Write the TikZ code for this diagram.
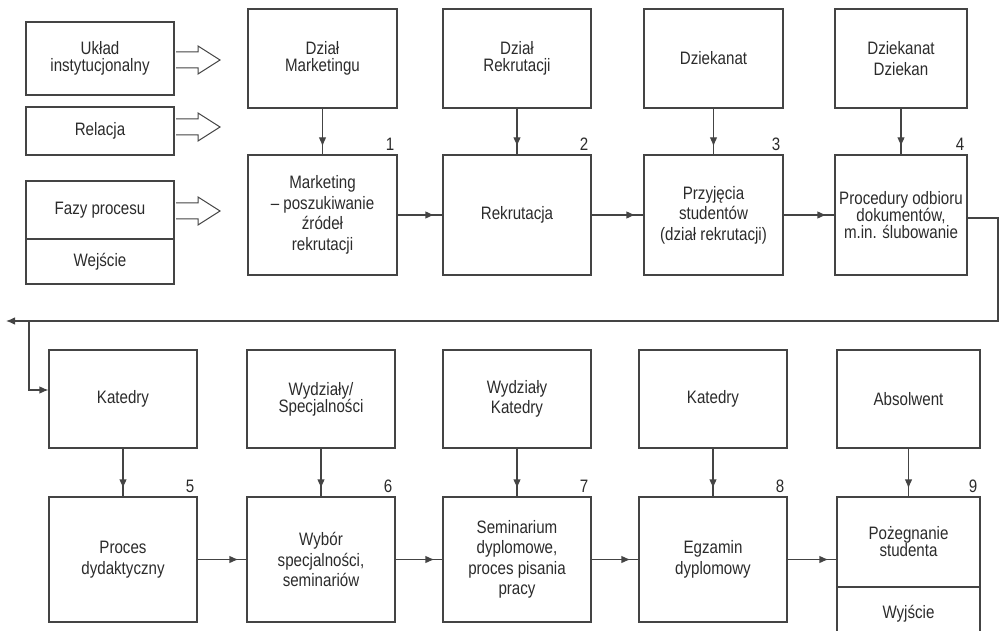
\documentclass[tikz,border=0pt]{standalone}
\usepackage{fontspec}
\setmainfont{Liberation Sans}[FakeStretch=0.84]
\usetikzlibrary{arrows.meta,decorations.markings}
\definecolor{ink}{HTML}{2B2B2B}
\definecolor{rule}{HTML}{444444}
\begin{document}
\begin{tikzpicture}[x=1pt,y=-1pt,
  box/.style={draw=rule,line width=1.1pt,rectangle,inner sep=2pt,align=center,
    text=ink,font=\fontsize{18}{20.5}\selectfont},
  tight/.style={font=\fontsize{18}{17}\selectfont},
  num/.style={text=ink,font=\fontsize{18}{17}\selectfont,inner sep=0pt,anchor=south east},
  flow/.style={draw=rule,line width=1.1pt,postaction={decorate},
    decoration={markings,mark=at position -8pt with {\arrow[rule]{Latex[length=9pt,width=7.5pt]}}}},
  tipend/.style={draw=rule,line width=1.1pt,-{Latex[length=9pt,width=7.5pt]}},
  hollow/.style={draw=rule,line width=1pt,line join=miter}]
\useasboundingbox (0,0) rectangle (1004,631);

% legend column
\node[box,tight,minimum width=148,minimum height=73] (uklad) at (100,58.5) {Układ\\instytucjonalny};
\node[box,minimum width=148,minimum height=48] (rel) at (100,131) {Relacja};
\node[box,minimum width=148,minimum height=58] (fazy) at (100,210) {Fazy procesu};
\node[box,minimum width=148,minimum height=45] (wej) at (100,261.5) {Wejście};

% hollow arrows of the legend
\foreach \yy in {60,127,211}{
  \draw[hollow] (176,\yy-8) -- (198,\yy-8) -- (198,\yy-14) -- (220,\yy) -- (198,\yy+14) -- (198,\yy+8) -- (176,\yy+8);
}

% first stage: units
\node[box,tight,minimum width=149,minimum height=99] (dm) at (322.5,58.5) {Dział\\Marketingu};
\node[box,tight,minimum width=148,minimum height=99] (dr) at (517,58.5) {Dział\\Rekrutacji};
\node[box,minimum width=139,minimum height=99] (dz) at (713.5,58.5) {Dziekanat};
\node[box,minimum width=132,minimum height=99] (dd) at (901,58.5) {Dziekanat\\Dziekan};

% first stage: phases
\node[box,minimum width=149,minimum height=120] (mk) at (322.5,215) {Marketing\\-- poszukiwanie\\źródeł\\rekrutacji};
\node[box,minimum width=148,minimum height=120] (rk) at (517,215) {Rekrutacja};
\node[box,minimum width=139,minimum height=120] (pr) at (713.5,215) {Przyjęcia\\studentów\\(dział rekrutacji)};
\node[box,tight,minimum width=132,minimum height=120,inner sep=0pt] (po) at (901,215) {Procedury odbioru\\dokumentów,\\m.in. ślubowanie};

\node[num] at ([xshift=-3pt,yshift=4pt]mk.north east) {1};
\node[num] at ([xshift=-3pt,yshift=4pt]rk.north east) {2};
\node[num] at ([xshift=-3pt,yshift=4pt]pr.north east) {3};
\node[num] at ([xshift=-3pt,yshift=4pt]po.north east) {4};

\draw[flow] (dm) -- (mk);
\draw[flow] (dr) -- (rk);
\draw[flow] (dz) -- (pr);
\draw[flow] (dd) -- (po);
\draw[flow] (mk) -- (rk);
\draw[flow] (rk) -- (pr);
\draw[flow] (pr) -- (po);

% second stage: units
\node[box,minimum width=148,minimum height=98] (k1) at (123,399) {Katedry};
\node[box,tight,minimum width=148,minimum height=98] (ws) at (321,399) {Wydziały/\\Specjalności};
\node[box,minimum width=148,minimum height=98] (wk) at (517,399) {Wydziały\\Katedry};
\node[box,minimum width=148,minimum height=98] (k2) at (713,399) {Katedry};
\node[box,minimum width=143,minimum height=98] (ab) at (908.5,399) {Absolwent};

% second stage: phases
\node[box,minimum width=148,minimum height=125] (pd) at (123,559.5) {Proces\\dydaktyczny};
\node[box,minimum width=148,minimum height=125] (wb) at (321,559.5) {Wybór\\specjalności,\\seminariów};
\node[box,minimum width=148,minimum height=125] (sm) at (517,559.5) {Seminarium\\dyplomowe,\\proces pisania\\pracy};
\node[box,minimum width=148,minimum height=125] (eg) at (713,559.5) {Egzamin\\dyplomowy};
\node[box,tight,minimum width=143,minimum height=90] (pz) at (908.5,542) {Pożegnanie\\studenta};
\node[box,minimum width=143,minimum height=53] (wy) at (908.5,613.5) {Wyjście};

\node[num] at ([xshift=-3pt,yshift=4pt]pd.north east) {5};
\node[num] at ([xshift=-3pt,yshift=4pt]wb.north east) {6};
\node[num] at ([xshift=-3pt,yshift=4pt]sm.north east) {7};
\node[num] at ([xshift=-3pt,yshift=4pt]eg.north east) {8};
\node[num] at ([xshift=-3pt,yshift=4pt]pz.north east) {9};

\draw[flow] (k1) -- (pd);
\draw[flow] (ws) -- (wb);
\draw[flow] (wk) -- (sm);
\draw[flow] (k2) -- (eg);
\draw[flow] (ab) -- (pz);
\draw[flow] (pd) -- (wb);
\draw[flow] (wb) -- (sm);
\draw[flow] (sm) -- (eg);
\draw[flow] (eg.east) -- (eg.east -| pz.west);

% return line from stage 4 to stage 5
\coordinate (r1) at (998,321);
\coordinate (l1) at (6,321);
\coordinate (c1) at (29,321);
\coordinate (c2) at (29,390);
\draw[tipend] ([yshift=-3pt]po.east) -- ([yshift=-3pt]po.east -| r1) -- (r1) -- (l1);
\draw[tipend] (c1) -- (c2) -- (c2 -| k1.west);
\end{tikzpicture}
\end{document}
